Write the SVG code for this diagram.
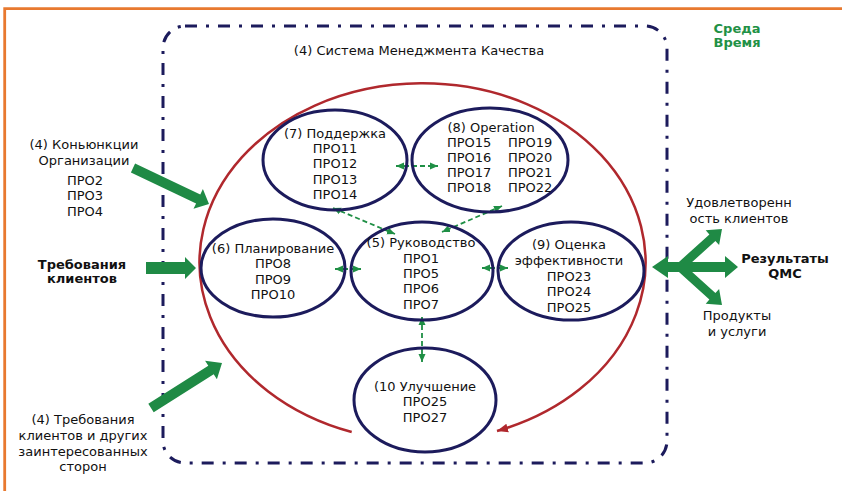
<svg xmlns="http://www.w3.org/2000/svg" width="842" height="491" viewBox="0 0 842 491">
  <style>
    text { font-family: "DejaVu Sans", Verdana, sans-serif; font-size: 13px; fill: #111; }
    .c { text-anchor: middle; }
    .b { font-weight: bold; }
    .env { font-weight: bold; fill: #1f9146; text-anchor: middle; }
    .proc { fill: none; stroke: #1c1b5c; stroke-width: 3; }
    .link { fill: none; stroke: #1f8f45; stroke-width: 1.8; stroke-dasharray: 5 3; marker-start: url(#gtip); marker-end: url(#gtip); }
    .big { fill: #1f8a45; }
  </style>
  <defs>
    <marker id="gtip" markerUnits="userSpaceOnUse" markerWidth="9" markerHeight="8" refX="8" refY="4" orient="auto-start-reverse">
      <path d="M0,0.5 L8,4 L0,7.5 z" fill="#1f8f45"/>
    </marker>
    <marker id="rtip" markerUnits="userSpaceOnUse" markerWidth="12" markerHeight="10" refX="11" refY="5" orient="auto">
      <path d="M0,0.5 L11,5 L0,9.5 z" fill="#b0282d"/>
    </marker>
  </defs>

  <rect width="842" height="491" fill="#fff"/>

  <!-- page frame -->
  <path d="M4.7,491 V8.7 H842" fill="none" stroke="#e8792f" stroke-width="2.8"/>

  <!-- system boundary -->
  <rect id="qms-boundary" x="163" y="26" width="504" height="437" rx="22" fill="none" stroke="#1c1b5c" stroke-width="3" stroke-dasharray="12 9 3 9"/>
  <text class="c" x="419" y="55">(4) Система Менеджмента Качества</text>

  <!-- environment -->
  <g id="environment">
    <text class="env" x="737" y="33">Среда</text>
    <text class="env" x="737" y="47">Время</text>
  </g>

  <!-- improvement cycle -->
  <path id="cycle" d="M351.7,432 A223,179 0 1 1 497,431" fill="none" stroke="#b0282d" stroke-width="2.5" marker-end="url(#rtip)"/>

  <!-- connectors -->
  <g id="connectors">
    <line class="link" x1="396" y1="166" x2="438" y2="166"/>
    <line class="link" x1="333" y1="208" x2="395" y2="234"/>
    <line class="link" x1="502" y1="206" x2="442" y2="232"/>
    <line class="link" x1="335" y1="269" x2="361" y2="269"/>
    <line class="link" x1="482" y1="268" x2="508" y2="268"/>
    <line class="link" x1="422" y1="317" x2="422" y2="362"/>

    <polygon class="big" points="135.1,163.5 200.3,194.4 202.9,189.0 209,204 193.5,208.8 196.1,203.4 130.9,172.5"/>
    <polygon class="big" points="146,262 185,262 185,257 196,268 185,279 185,274 146,274"/>
    <polygon class="big" points="148.3,403.8 208.3,365.8 205.1,360.7 222,363 216.9,379.3 213.7,374.2 153.7,412.2"/>

    <polygon class="big" points="652,267 668,256 668,262 725,262 725,256 738,267 725,278 725,272 668,272 668,278"/>
    <polygon class="big" points="677.0,263.7 709.4,234.4 705.7,230.3 722,229 719.1,245.1 715.4,241.0 683.0,270.3"/>
    <polygon class="big" points="677.0,270.3 709.4,299.6 705.7,303.7 722,305 719.1,288.9 715.4,293.0 683.0,263.7"/>
  </g>

  <!-- inputs -->
  <g id="context">
    <text class="c" x="84" y="149">(4) Коньюнкции</text>
    <text class="c" x="84" y="165">Организации</text>
    <text class="c" x="85" y="185">ПРО2</text>
    <text class="c" x="85" y="200">ПРО3</text>
    <text class="c" x="85" y="216">ПРО4</text>
  </g>
  <g id="customer-req">
    <text class="c b" x="82" y="269">Требования</text>
    <text class="c b" x="82" y="283">клиентов</text>
  </g>
  <g id="stakeholder-req">
    <text class="c" x="83" y="424">(4) Требования</text>
    <text class="c" x="83" y="440">клиентов и других</text>
    <text class="c" x="83" y="456">заинтересованных</text>
    <text class="c" x="83" y="471">сторон</text>
  </g>

  <!-- outputs -->
  <g id="satisfaction">
    <text class="c" x="739" y="207">Удовлетворенн</text>
    <text class="c" x="739" y="223">ость клиентов</text>
  </g>
  <g id="results">
    <text class="c b" x="785" y="263">Результаты</text>
    <text class="c b" x="785" y="278">QMC</text>
  </g>
  <g id="products">
    <text class="c" x="737" y="320">Продукты</text>
    <text class="c" x="737" y="336">и услуги</text>
  </g>

  <!-- processes -->
  <g id="support">
    <ellipse class="proc" cx="335" cy="160" rx="72" ry="50"/>
    <text class="c" x="335" y="137.5">(7) Поддержка</text>
    <text class="c" x="335" y="153">ПРО11</text>
    <text class="c" x="335" y="168">ПРО12</text>
    <text class="c" x="335" y="183.5">ПРО13</text>
    <text class="c" x="335" y="199">ПРО14</text>
  </g>
  <g id="operation">
    <ellipse class="proc" cx="490" cy="160" rx="78" ry="52"/>
    <text class="c" x="491" y="132">(8) Operation</text>
    <text x="447" y="147">ПРО15</text>
    <text x="447" y="162">ПРО16</text>
    <text x="447" y="177">ПРО17</text>
    <text x="447" y="192">ПРО18</text>
    <text x="508" y="147">ПРО19</text>
    <text x="508" y="162">ПРО20</text>
    <text x="508" y="177">ПРО21</text>
    <text x="508" y="192">ПРО22</text>
  </g>
  <g id="planning">
    <ellipse class="proc" cx="273" cy="268" rx="72" ry="49"/>
    <text class="c" x="273" y="253">(6) Планирование</text>
    <text class="c" x="273" y="268">ПРО8</text>
    <text class="c" x="273" y="284">ПРО9</text>
    <text class="c" x="273" y="299">ПРО10</text>
  </g>
  <g id="leadership">
    <ellipse class="proc" cx="422" cy="271" rx="71" ry="49"/>
    <text class="c" x="421" y="247">(5) Руководство</text>
    <text class="c" x="421" y="263">ПРО1</text>
    <text class="c" x="421" y="278">ПРО5</text>
    <text class="c" x="421" y="293">ПРО6</text>
    <text class="c" x="421" y="309">ПРО7</text>
  </g>
  <g id="evaluation">
    <ellipse class="proc" cx="571" cy="271" rx="73" ry="49"/>
    <text class="c" x="569" y="249">(9) Оценка</text>
    <text class="c" x="569" y="265">эффективности</text>
    <text class="c" x="569" y="281">ПРО23</text>
    <text class="c" x="569" y="296">ПРО24</text>
    <text class="c" x="569" y="312">ПРО25</text>
  </g>
  <g id="improvement">
    <ellipse class="proc" cx="425" cy="400" rx="71" ry="52"/>
    <text class="c" x="425" y="391">(10 Улучшение</text>
    <text class="c" x="425" y="406">ПРО25</text>
    <text class="c" x="425" y="422">ПРО27</text>
  </g>
</svg>
